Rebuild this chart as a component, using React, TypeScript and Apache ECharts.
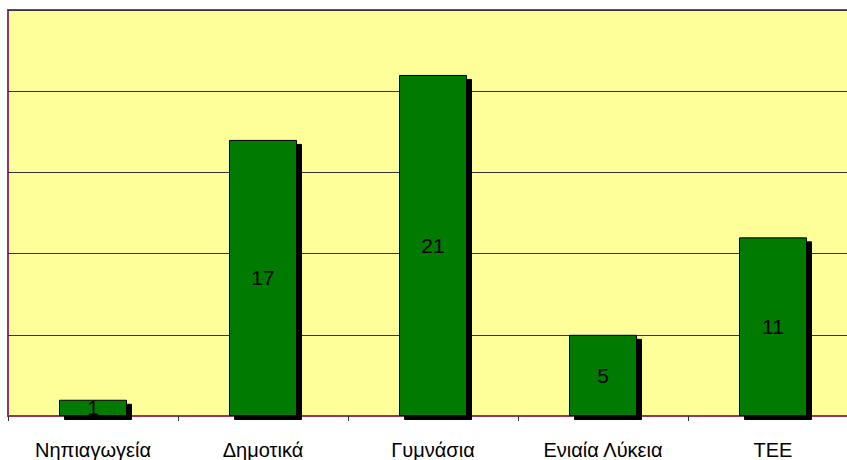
import React, { useEffect, useRef } from "react";
import * as echarts from "echarts";

const categories = ["Νηπιαγωγεία", "Δημοτικά", "Γυμνάσια", "Ενιαία Λύκεια", "ΤΕΕ"];
const values = [1, 17, 21, 5, 11];
const yMin = 0;
const yMax = 25;
const yInterval = 5;

export default function App() {
  const ref = useRef<HTMLDivElement>(null);
  useEffect(() => {
    document.body.style.margin = "0";
    document.body.style.overflow = "hidden";
    const chart = echarts.init(ref.current!, null, { renderer: "svg" });
    chart.setOption({
      animation: false,
      backgroundColor: "#ffffff",
      grid: {
        left: 8,
        top: 10,
        right: 2,
        bottom: 44,
        show: true,
        backgroundColor: "#FFFF99",
        borderColor: "#993366",
        borderWidth: 2,
      },
      xAxis: {
        type: "category",
        data: categories,
        axisLine: { show: true, lineStyle: { color: "#993366", width: 1 } },
        axisTick: { show: true, length: 5, lineStyle: { color: "#333333" } },
        axisLabel: {
          color: "#000000",
          fontFamily: "Liberation Sans, Arial, sans-serif",
          fontSize: 20,
          margin: 24,
        },
      },
      yAxis: {
        type: "value",
        min: yMin,
        max: yMax,
        interval: yInterval,
        axisLine: { show: false },
        axisTick: { show: false },
        axisLabel: { show: false },
        splitLine: { show: true, lineStyle: { color: "#333333", width: 1 } },
      },
      series: [
        {
          type: "bar",
          data: values,
          barWidth: "40%",
          itemStyle: {
            color: "#007A00",
            borderColor: "#000000",
            borderWidth: 1,
            shadowColor: "#000000",
            shadowOffsetX: 5,
            shadowOffsetY: 4,
            shadowBlur: 0,
          },
          label: {
            show: true,
            position: "inside",
            color: "#000000",
            fontFamily: "Liberation Sans, Arial, sans-serif",
            fontSize: 21,
          },
        },
      ],
    });
    return () => chart.dispose();
  }, []);
  return (
    <div style={{ width: 847, height: 460, overflow: "hidden" }}>
      <div ref={ref} style={{ width: 860, height: 460 }} />
    </div>
  );
}
